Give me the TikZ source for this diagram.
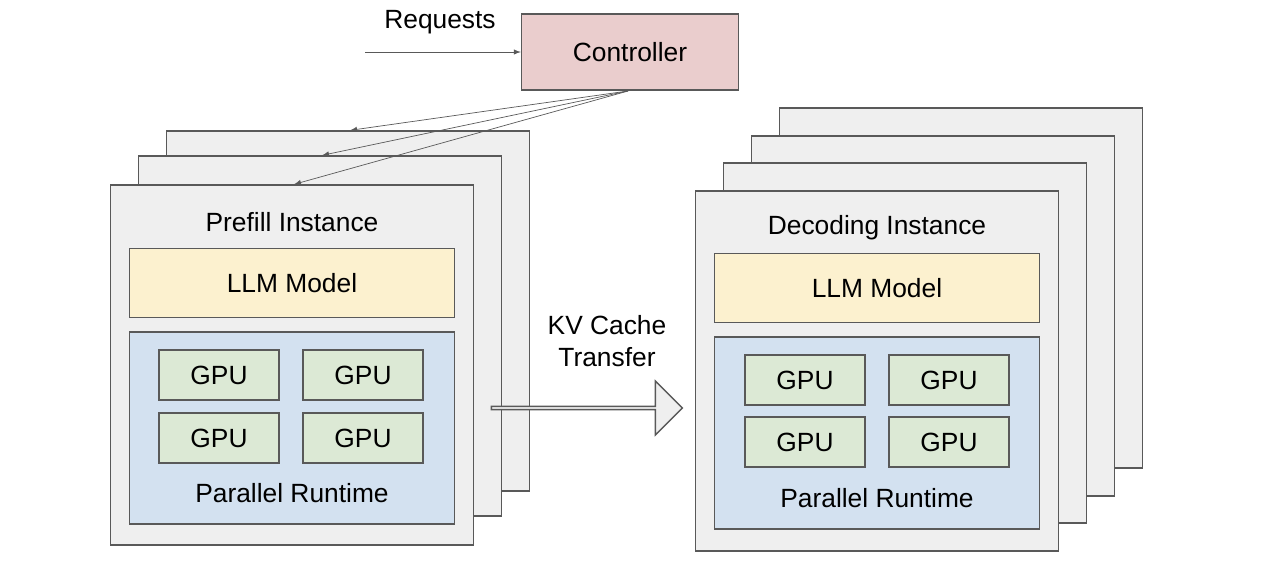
\documentclass[tikz,border=0pt]{standalone}
\usepackage{fontspec}
\setmainfont{Liberation Sans}
\usetikzlibrary{shapes.arrows}
\definecolor{edge}{HTML}{595959}
\definecolor{inst}{HTML}{EFEFEF}
\definecolor{ctrl}{HTML}{EACDCD}
\definecolor{llm}{HTML}{FCF1CF}
\definecolor{rt}{HTML}{D3E1F0}
\definecolor{gpu}{HTML}{DCE9D5}
\tikzstyle{box} = [rectangle, draw=edge, line width=0.8pt, inner sep=0pt, font=\fontsize{15}{18}\selectfont]
\tikzstyle{inst} = [box, fill=inst, minimum width=7.26cm, minimum height=7.2cm]
\tikzstyle{llm} = [box, fill=llm, minimum width=6.5cm, minimum height=1.38cm]
\tikzstyle{rt} = [box, fill=rt, minimum width=6.5cm, minimum height=3.84cm]
\tikzstyle{gpu} = [box, fill=gpu, minimum width=2.4cm, minimum height=1cm]
\tikzstyle{lbl} = [font=\fontsize{15}{18}\selectfont]

\begin{document}
\begin{tikzpicture}[x=0.02cm, y=-0.02cm, >=latex]
\useasboundingbox (0,0) rectangle (1280,566);

\node[box, fill=ctrl, minimum width=4.34cm, minimum height=1.52cm] (ctrl) at (630,52) {Controller};
\node[lbl] (req) at (440,22) {Requests};
\coordinate (reqin) at (365,52);
\draw[->, edge] (reqin) -- (ctrl.west);

% prefill stack
\node[inst] (p3) at (348,311) {};
\node[inst] (p2) at (320,336) {};
\node[inst] (p1) at (292,365) {};
\node[lbl] (ptitle) at (292,222) {Prefill Instance};
\node[llm] (pllm) at (292,283) {LLM Model};
\node[rt] (prt) at (292,428) {};
\node[gpu] (pg1) at (219,375) {GPU};
\node[gpu] (pg2) at (363,375) {GPU};
\node[gpu] (pg3) at (219,438) {GPU};
\node[gpu] (pg4) at (363,438) {GPU};
\node[lbl] (prtl) at (292,493) {Parallel Runtime};

\coordinate (fan) at (628,91);
\draw[->, edge] (fan) -- (p3.north west -| 350,0);
\draw[->, edge] (fan) -- (p2.north west -| 322,0);
\draw[->, edge] (fan) -- (p1.north west -| 294,0);

% decoding stack
\node[inst] (d4) at (961,288) {};
\node[inst] (d3) at (933,316) {};
\node[inst] (d2) at (905,343) {};
\node[inst] (d1) at (877,371) {};
\node[lbl] (dtitle) at (877,228) {Decoding Instance};
\node[llm] (dllm) at (877,288) {LLM Model};
\node[rt] (drt) at (877,433) {};
\node[gpu] (dg1) at (805,380) {GPU};
\node[gpu] (dg2) at (949,380) {GPU};
\node[gpu] (dg3) at (805,442) {GPU};
\node[gpu] (dg4) at (949,442) {GPU};
\node[lbl] (drtl) at (877,498) {Parallel Runtime};

% transfer
\node[single arrow, draw=edge, fill=inst, line width=0.8pt, minimum width=1.08cm,
  single arrow head extend=0.22cm, minimum height=3.82cm, inner sep=0pt] (kv) at (586,408) {};
\node[lbl, align=center] (kvl) at (607,341) {KV Cache\\Transfer};
\end{tikzpicture}
\end{document}
